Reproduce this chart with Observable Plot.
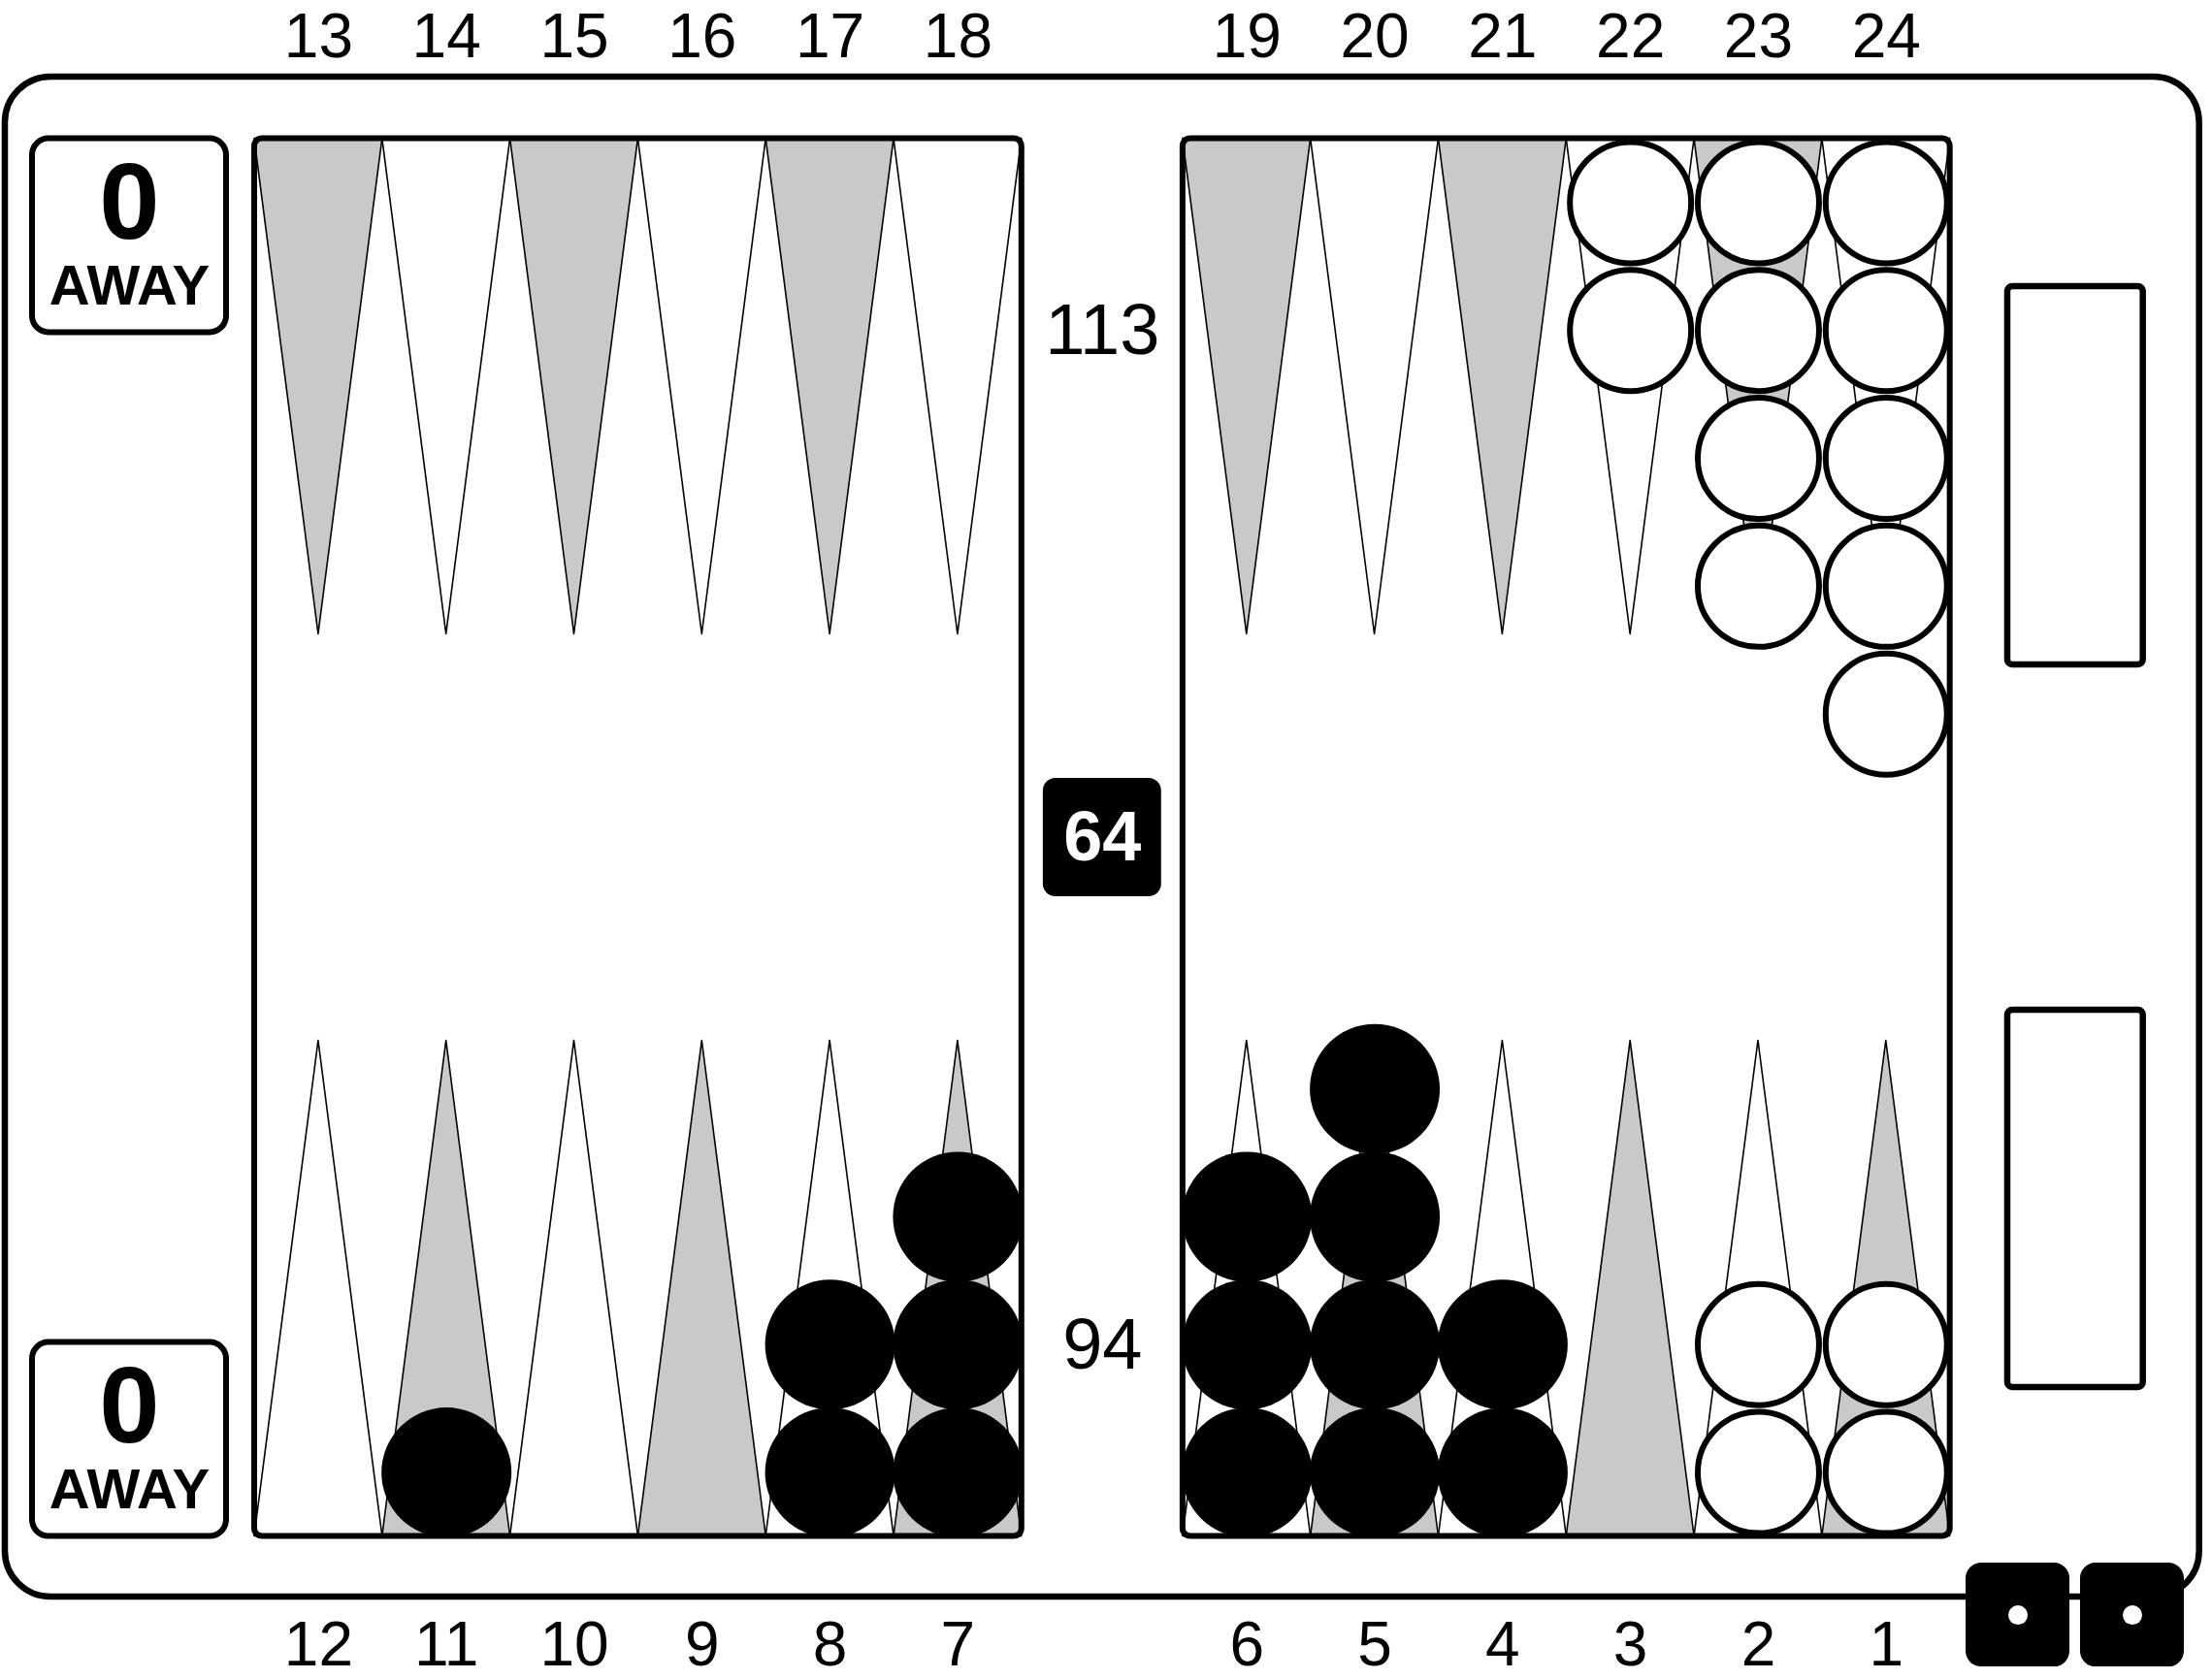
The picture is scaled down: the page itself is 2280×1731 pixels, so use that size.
<!DOCTYPE html>
<html>
<head>
<meta charset="utf-8">
<script src="https://cdn.jsdelivr.net/npm/d3@7"></script>
<script src="https://cdn.jsdelivr.net/npm/@observablehq/plot@0.6"></script>
<style>
  html, body { margin: 0; padding: 0; background: #fff; }
  #chart svg { display: block; }
</style>
</head>
<body>
<div id="chart"></div>
<script>
// ---------------- data ----------------
const topPointLabels = [13, 14, 15, 16, 17, 18, 19, 20, 21, 22, 23, 24];
const bottomPointLabels = [12, 11, 10, 9, 8, 7, 6, 5, 4, 3, 2, 1];
const blackPoints = [11, 8, 7, 6, 5, 4];
const blackCounts = [1, 2, 3, 3, 4, 2];
const whitePoints = [22, 23, 24, 2, 1];
const whiteCounts = [2, 4, 5, 2, 2];
const pipCounts = [113, 94];        // top player, bottom player
const awayScores = [0, 0];          // top box, bottom box
const awayLabel = "AWAY";
const cubeValue = 64;
const diceValues = [1, 1];

// ---------------- layout (board units: 1 = one point width) ----------------
const W = 2280, HPX = 1731;
const U = 131.8;                 // pixels per board unit
const X0 = 262, Y0 = 1583.5;     // pixel position of board origin (inner bottom-left)
const BAR = 1.26;                // bar width
const H = 10.933;                // inner board height
const TRI = 3.877;               // triangle length
const barX = 6 + BAR / 2;
const GRAY = "#c9c9c9";
const FONT = "'Liberation Sans', Arial, Helvetica, sans-serif";

function pointX(p) {
  if (p <= 6) return 6 + BAR + (6 - p) + 0.5;
  if (p <= 12) return (12 - p) + 0.5;
  if (p <= 18) return (p - 13) + 0.5;
  return 6 + BAR + (p - 19) + 0.5;
}
const isTop = p => p >= 13;

// triangles as 3-vertex areas
const triRows = [];
for (let p = 1; p <= 24; ++p) {
  const cx = pointX(p), base = isTop(p) ? H : 0, tip = isTop(p) ? H - TRI : TRI;
  const fill = p % 2 ? GRAY : "#ffffff";
  triRows.push({p, x: cx - 0.5, y1: base, y2: base, fill});
  triRows.push({p, x: cx, y1: base, y2: tip, fill});
  triRows.push({p, x: cx + 0.5, y1: base, y2: base, fill});
}

function stack(points, counts) {
  const out = [];
  points.forEach((p, i) => {
    for (let k = 0; k < counts[i]; ++k) out.push({p, x: pointX(p), y: isTop(p) ? H - 0.5 - k : 0.5 + k});
  });
  return out;
}
const blackCheckers = stack(blackPoints, blackCounts);
const whiteCheckers = stack(whitePoints, whiteCounts);

const outerBoard = [{x1: -1.95, x2: 15.21, y1: -0.474, y2: 11.415}];
const halves = [{x1: 0, x2: 6, y1: 0, y2: H}, {x1: 6 + BAR, x2: 12 + BAR, y1: 0, y2: H}];
const AWH = 1.517;
const awayBoxes = [
  {x1: -1.7375, x2: -0.22, y1: H - AWH, y2: H, score: awayScores[0]},
  {x1: -1.7375, x2: -0.22, y1: 0, y2: AWH, score: awayScores[1]}
];
const trays = [{x1: 13.71, x2: 14.77, y1: 6.817, y2: 9.776}, {x1: 13.71, x2: 14.77, y1: 1.165, y2: 4.116}];
const CUBE = 0.925;
const cube = [{x1: barX - CUBE / 2, x2: barX + CUBE / 2, y1: H / 2 - CUBE / 2, y2: H / 2 + CUBE / 2}];
const DIE = 0.812;
const diceX = [13.384, 14.279];
const dice = diceValues.map((v, i) => ({v, x1: diceX[i], x2: diceX[i] + DIE, y1: -1.021, y2: -1.021 + DIE}));
const pipLayout = {1: [[0, 0]], 2: [[-1, 1], [1, -1]], 3: [[-1, 1], [0, 0], [1, -1]], 4: [[-1, 1], [1, 1], [-1, -1], [1, -1]],
  5: [[-1, 1], [1, 1], [0, 0], [-1, -1], [1, -1]], 6: [[-1, 1], [1, 1], [-1, 0], [1, 0], [-1, -1], [1, -1]]};
const diePips = [];
dice.forEach(d => {
  const cx = (d.x1 + d.x2) / 2, cy = (d.y1 + d.y2) / 2;
  pipLayout[d.v].forEach(([dx, dy]) => diePips.push({x: cx + dx * DIE * 0.25, y: cy + dy * DIE * 0.25}));
});

const pointLabels = [
  ...topPointLabels.map(p => ({p, x: pointX(p), y: 11.726})),
  ...bottomPointLabels.map(p => ({p, x: pointX(p), y: -0.854}))
];
const pipText = [{x: barX, y: H - 1.506, t: String(pipCounts[0])}, {x: barX, y: 1.49, t: String(pipCounts[1])}];
const cubeText = [{x: barX, y: H / 2, t: String(cubeValue)}];
const awayText = awayBoxes.map(d => ({x: (d.x1 + d.x2) / 2, yScore: d.y2 - 0.51, yLabel: d.y2 - 1.153, score: String(d.score)}));

const chart = Plot.plot({
  width: W,
  height: HPX,
  margin: 0,
  x: {domain: [-X0 / U, (W - X0) / U], range: [0, W], axis: null},
  y: {domain: [(Y0 - HPX) / U, Y0 / U], range: [HPX, 0], axis: null},
  color: {type: "identity"},
  style: {fontFamily: FONT, background: "#fff", overflow: "visible"},
  marks: [
    Plot.rect(outerBoard, {x1: "x1", x2: "x2", y1: "y1", y2: "y2", rx: 47, fill: "#fff", stroke: "#000", strokeWidth: 6.5}),
    Plot.area(triRows, {x1: "x", y1: "y1", y2: "y2", z: "p", fill: "fill", stroke: "#000", strokeWidth: 1.6, strokeLinejoin: "round"}),
    Plot.rect(halves, {x1: "x1", x2: "x2", y1: "y1", y2: "y2", rx: 8, fill: "none", stroke: "#000", strokeWidth: 6}),
    Plot.rect(awayBoxes, {x1: "x1", x2: "x2", y1: "y1", y2: "y2", rx: 17, fill: "#fff", stroke: "#000", strokeWidth: 6}),
    Plot.text(awayText, {x: "x", y: "yScore", text: "score", fontSize: 112, fontWeight: "bold", fill: "#000"}),
    Plot.text(awayText, {x: "x", y: "yLabel", text: () => awayLabel, fontSize: 58, fontWeight: "bold", fill: "#000"}),
    Plot.rect(trays, {x1: "x1", x2: "x2", y1: "y1", y2: "y2", rx: 5, fill: "#fff", stroke: "#000", strokeWidth: 6.5}),
    Plot.rect(cube, {x1: "x1", x2: "x2", y1: "y1", y2: "y2", rx: 13, fill: "#000"}),
    Plot.text(cubeText, {x: "x", y: "y", text: "t", fontSize: 72, fontWeight: "bold", fill: "#fff"}),
    Plot.text(pipText, {x: "x", y: "y", text: "t", fontSize: 74, fill: "#000"}),
    Plot.dot(blackCheckers, {x: "x", y: "y", r: 67, fill: "#000"}),
    Plot.dot(whiteCheckers, {x: "x", y: "y", r: 62.5, fill: "#fff", stroke: "#000", strokeWidth: 6}),
    Plot.rect(dice, {x1: "x1", x2: "x2", y1: "y1", y2: "y2", rx: 16, fill: "#000"}),
    Plot.dot(diePips, {x: "x", y: "y", r: 10, fill: "#fff"}),
    Plot.text(pointLabels, {x: "x", y: "y", text: d => String(d.p), fontSize: 64, fill: "#000"})
  ]
});
document.getElementById("chart").append(chart);
</script>
</body>
</html>
